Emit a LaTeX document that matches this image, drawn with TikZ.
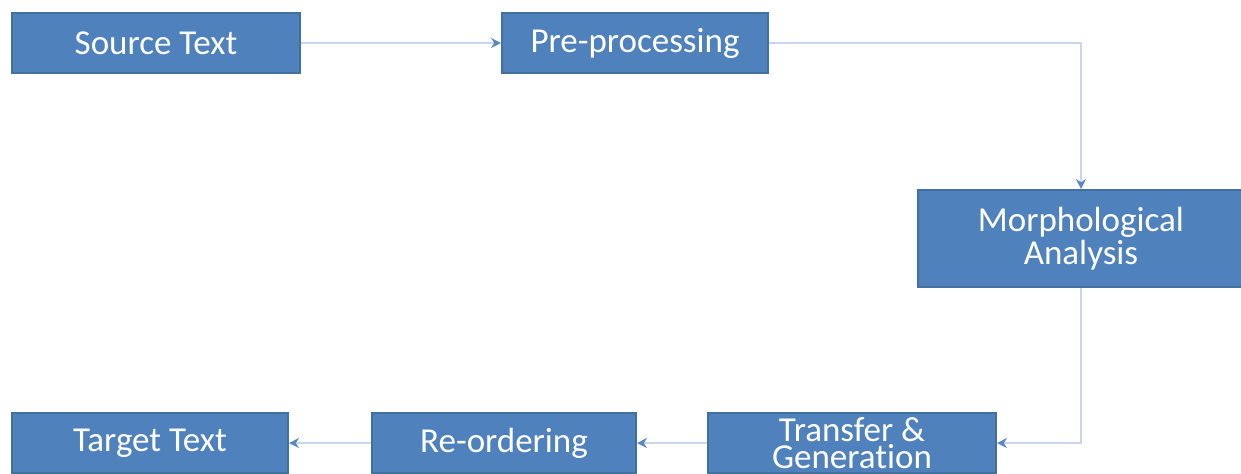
\documentclass[tikz,border=0pt]{standalone}
\usepackage{fontspec}
\setmainfont{Carlito}[Ligatures=NoCommon]
\usetikzlibrary{arrows.meta,positioning}
\definecolor{boxblue}{RGB}{79,129,189}
\definecolor{boxedge}{RGB}{65,113,156}
\definecolor{linkblue}{RGB}{200,215,237}
\definecolor{tipblue}{RGB}{90,135,195}

\begin{document}
\begin{tikzpicture}[x=0.5pt,y=-0.5pt,
  stagebox/.style={draw=boxedge,line width=1pt,fill=boxblue,text=white,
    minimum height=30pt,inner sep=0pt,align=center,
    font=\fontsize{17.5}{13.5}\selectfont},
  link/.style={draw=linkblue,line width=1pt,
    -{Stealth[length=5pt,width=5pt,color=tipblue]}}]
\useasboundingbox (0,0) rectangle (1241,473);
%%% top row
\node[stagebox,minimum width=144pt] (src) at (156,43) {Source Text};
\node[stagebox,minimum width=133pt] (pre) at (635,43) {Pre-processing};
%%% right side
\node[stagebox,minimum width=163pt,minimum height=48.5pt] (morph) at (1081,238.5)
  {Morphological\\Analysis};
%%% bottom row
\node[stagebox,minimum width=144pt] (trans) at (852,443) {Transfer \&\\Generation};
\node[stagebox,minimum width=132pt] (reord) at (504,443) {Re-ordering};
\node[stagebox,minimum width=138pt] (tgt) at (150,443) {Target Text};
%
\draw[link] (src) -- (pre);
\draw[link] (pre.east) -| (morph.north);
\draw[link] (morph.south) |- (trans.east);
\draw[link] (trans) -- (reord);
\draw[link] (reord) -- (tgt);
\end{tikzpicture}
\end{document}
